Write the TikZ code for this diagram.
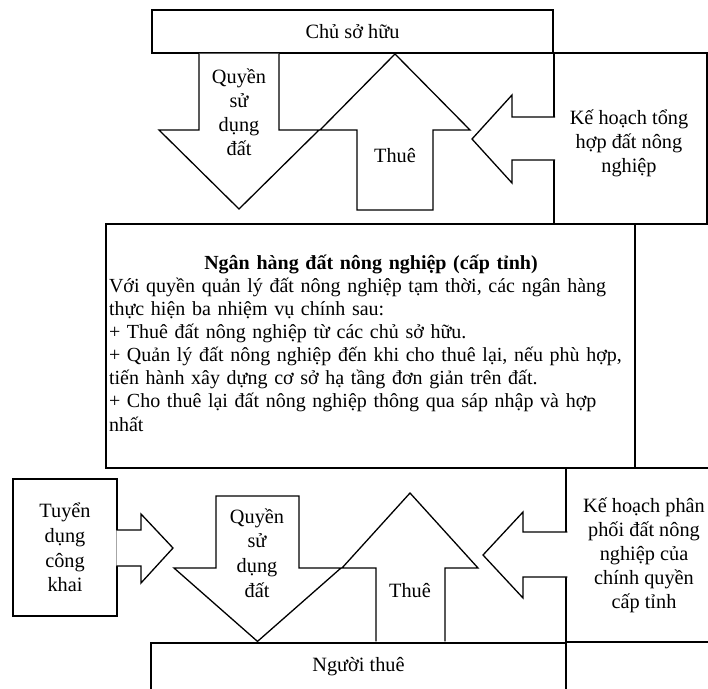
\documentclass[tikz,border=0pt]{standalone}
\usepackage{fontspec}
\setmainfont{Liberation Serif}
\newcommand\myfs{\fontsize{20.3pt}{24pt}\selectfont}
\newcommand\widefs{\fontsize{20.3pt}{24.8pt}\selectfont}
\newcommand\bankfs{\fontsize{20pt}{23.1pt}\selectfont}
\begin{document}
\begin{tikzpicture}[x=1pt,y=-1pt,line width=1.3pt,line join=miter,
  box/.style={draw,fill=white,rectangle,inner sep=0pt,align=center,font=\myfs},
  arr/.style={draw,fill=white},
  lbl/.style={inner sep=0pt,align=center,font=\myfs}]
\useasboundingbox (0,0) rectangle (708,688);
\clip (0,0) rectangle (708,688);
% boxes
\node[box,minimum width=401pt,minimum height=43pt] (owner) at (352.5,31.5) {Chủ sở hữu};
\node[box,minimum width=153pt,minimum height=171pt] (plan1) at (630.5,138.5) {};
\node[lbl] (plan1text) at (629,143.5) {Kế hoạch tổng\\hợp đất nông\\nghiệp};
\node[box,minimum width=529pt,minimum height=244pt] (bank) at (370.5,346) {};
\node[lbl,text width=524pt,align=left,font=\bankfs] (banktext) at (371,343)
 {\makebox[\hsize]{\textbf{Ngân hàng đất nông nghiệp (cấp tỉnh)}}\\
 Với quyền quản lý đất nông nghiệp tạm thời, các ngân hàng\\
 thực hiện ba nhiệm vụ chính sau:\\
 + Thuê đất nông nghiệp từ các chủ sở hữu.\\
 + Quản lý đất nông nghiệp đến khi cho thuê lại, nếu phù hợp,\\
 tiến hành xây dựng cơ sở hạ tầng đơn giản trên đất.\\
 + Cho thuê lại đất nông nghiệp thông qua sáp nhập và hợp\\
 nhất};
\node[box,minimum width=104pt,minimum height=137pt,font=\widefs] (recruit) at (65,547.5) {Tuyển\\dụng\\công\\khai};
\node[box,minimum width=156pt,minimum height=174pt] (plan2) at (644,555) {Kế hoạch phân\\phối đất nông\\nghiệp của\\chính quyền\\cấp tỉnh};
\node[box,minimum width=415pt,minimum height=48pt] (tenant) at (358.5,667) {Người thuê};
% top arrows
\draw[arr] (199,53.7) -- (199,130) -- (159,130) -- (239,209) -- (319,130) -- (279,130) -- (279,53.7);
\draw[arr] (357,210) -- (357,130) -- (320,130) -- (395,54) -- (470,130) -- (433,130) -- (433,210) -- cycle;
\draw[arr] (555,117) -- (512,117) -- (512,95) -- (472,139) -- (512,183) -- (512,160) -- (555,160);
\node[lbl] (useTop) at (239,112.5) {Quyền\\sử\\dụng\\đất};
\node[lbl,anchor=base] (rentTop) at (395,162) {Thuê};
% bottom arrows
\draw[arr] (116.3,530) -- (141,530) -- (141,514) -- (173,548) -- (141,583) -- (141,566) -- (116.3,566);
\draw[arr] (216,496) -- (216,568) -- (174,568) -- (257.5,641.4) -- (341,568) -- (299,568) -- (299,496) -- cycle;
\draw[arr] (376,641.35) -- (376,568) -- (342,568) -- (410,493) -- (478,568) -- (445,568) -- (445,641.35);
\draw[arr] (567.3,532) -- (523,532) -- (523,512) -- (483,555) -- (523,598) -- (523,577) -- (567.3,577);
\node[lbl,font=\widefs] (useBot) at (257,553) {Quyền\\sử\\dụng\\đất};
\node[lbl,anchor=base] (rentBot) at (410,597) {Thuê};
\end{tikzpicture}
\end{document}
